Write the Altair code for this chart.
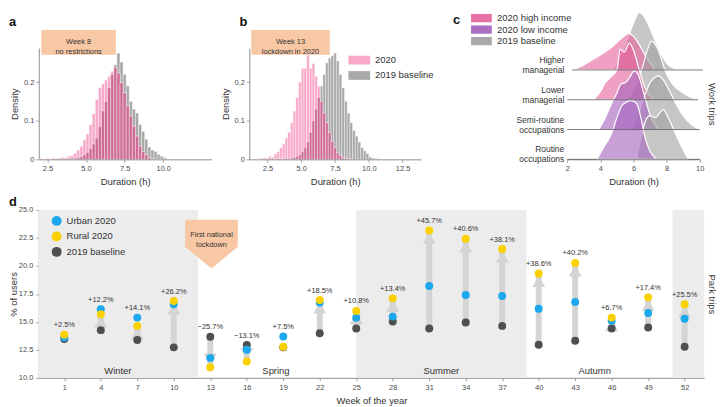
import altair as alt
import numpy as np
import pandas as pd

FONT = "Liberation Sans"
TXT = "#333333"
LAB = "#4a4a4a"
AXC = "#8f8f8f"
PEACH = "#f8c8a5"
PINK_BAR = "#f8a9c8"
GRAY_BAR = "#a9a9a9"
OVER_BAR = "#cd6b94"
SWATCH = "M-2.5,-1L2.5,-1L2.5,1L-2.5,1Z"
CALLOUT = "M-1,-0.925L1,-0.925L1,0.094L0,0.925L-1,0.094Z"

# ---------------- panels a and b: duration histograms ----------------
bin_start = [2.0, 2.2, 2.4, 2.6, 2.8, 3.0, 3.2, 3.4, 3.6, 3.8,
             4.0, 4.2, 4.4, 4.6, 4.8, 5.0, 5.2, 5.4, 5.6, 5.8,
             6.0, 6.2, 6.4, 6.6, 6.8, 7.0, 7.2, 7.4, 7.6, 7.8,
             8.0, 8.2, 8.4, 8.6, 8.8, 9.0, 9.2, 9.4, 9.6, 9.8,
             10.0, 10.2, 10.4, 10.6]
bin_width = 0.2
week8_2020 = [0.002, 0.001, 0.002, 0.001, 0.003, 0.002, 0.003, 0.005, 0.004, 0.008,
              0.010, 0.016, 0.024, 0.034, 0.050, 0.065, 0.090, 0.118, 0.155, 0.185,
              0.195, 0.205, 0.215, 0.228, 0.238, 0.223, 0.198, 0.172, 0.138, 0.112,
              0.086, 0.060, 0.034, 0.020, 0.012, 0.004, 0.002, 0, 0, 0,
              0, 0, 0, 0]
week8_2019 = [0, 0, 0.001, 0, 0.001, 0, 0.001, 0.001, 0.002, 0.002,
              0.003, 0.003, 0.005, 0.007, 0.012, 0.018, 0.028, 0.040, 0.055, 0.085,
              0.125, 0.150, 0.185, 0.220, 0.245, 0.275, 0.252, 0.220, 0.190, 0.150,
              0.130, 0.120, 0.090, 0.072, 0.052, 0.032, 0.024, 0.020, 0.013, 0.008,
              0.004, 0, 0, 0]
week13_2020 = [0.003, 0.004, 0.003, 0.008, 0.006, 0.014, 0.020, 0.030, 0.040, 0.055,
               0.070, 0.095, 0.125, 0.160, 0.200, 0.235, 0.236, 0.270, 0.236, 0.248,
               0.215, 0.189, 0.150, 0.120, 0.095, 0.069, 0.047, 0.030, 0.017, 0.010,
               0.004, 0.003, 0.002, 0.001, 0, 0, 0, 0, 0, 0,
               0, 0, 0, 0]
week13_2019 = [0, 0, 0, 0, 0.001, 0, 0.001, 0.001, 0.001, 0.002,
               0.002, 0.003, 0.005, 0.008, 0.012, 0.020, 0.030, 0.045, 0.070, 0.100,
               0.130, 0.160, 0.190, 0.220, 0.250, 0.262, 0.268, 0.275, 0.255, 0.220,
               0.185, 0.150, 0.120, 0.095, 0.075, 0.060, 0.045, 0.030, 0.022, 0.015,
               0.006, 0.003, 0.002, 0.001]

box_a_x = [2.11, 6.93]
box_b_x = [1.30, 7.11]
box_y = [0.2706, 0.335]
box_a_text = "Week 8\nno restrictions"
box_b_text = "Week 13\nlockdown in 2020"

# ---------------- panel c: work-trip duration ridgelines ----------------
c_rows = ["Higher\nmanagerial", "Lower\nmanagerial", "Semi-routine\noccupations", "Routine\noccupations"]
c_groups = ["2020 high income", "2020 high income", "2020 low income", "2020 low income"]
c2020_x = [[2.35, 3.0, 3.7, 4.2, 4.7, 5.3, 5.7, 6.0, 6.3, 6.6, 6.9, 7.3],
           [3.6, 4.0, 4.3, 4.7, 5.0, 5.2, 5.45, 5.75, 6.0, 6.35, 6.7, 7.2],
           [3.9, 4.3, 4.7, 5.0, 5.25, 5.5, 5.75, 6.05, 6.3, 6.6, 7.0, 7.5],
           [3.8, 4.2, 4.5, 4.75, 5.0, 5.3, 5.6, 5.9, 6.2, 6.45, 6.7, 7.0, 7.4]]
c2020_d = [[0, 0.17, 0.40, 0.57, 0.77, 1.07, 1.23, 1.13, 0.90, 0.60, 0.33, 0],
           [0, 0.27, 0.57, 0.80, 1.0, 1.70, 1.60, 1.90, 1.67, 1.0, 0.40, 0],
           [0, 0.40, 0.90, 1.23, 1.53, 1.57, 1.73, 1.97, 1.83, 1.27, 0.50, 0],
           [0, 0.40, 0.67, 0.97, 1.40, 1.80, 1.93, 1.97, 1.87, 1.40, 0.73, 0.27, 0]]
c2019_x = [[4.6, 5.0, 5.5, 6.0, 6.35, 6.6, 6.9, 7.3, 7.7, 8.1, 8.5, 9.0],
           [5.6, 6.0, 6.5, 6.8, 7.1, 7.3, 7.5, 7.9, 8.3, 8.9, 9.4, 9.9],
           [5.9, 6.3, 6.7, 7.0, 7.25, 7.5, 7.8, 8.2, 8.6, 9.0, 9.5, 10.0],
           [6.2, 6.5, 6.75, 7.0, 7.3, 7.55, 7.8, 8.1, 8.45, 8.85, 9.3]]
c2019_d = [[0, 0.20, 0.80, 1.57, 1.93, 1.83, 1.53, 1.0, 0.50, 0.17, 0.05, 0],
           [0, 0.33, 1.0, 1.60, 1.97, 1.87, 1.67, 1.0, 0.57, 0.27, 0.10, 0],
           [0, 0.50, 1.17, 1.57, 1.73, 1.80, 1.67, 1.27, 0.83, 0.47, 0.17, 0],
           [0, 0.83, 1.33, 1.47, 1.40, 1.53, 1.67, 1.40, 0.97, 0.50, 0]]
c_line_x0 = [2.3, 2.0, 2.0, 2.0]
c_line_x1 = [10.2, 9.9, 10.0, 10.0]
c_series = ["2020 high income", "2020 low income", "2019 baseline"]
c_colors = ["#e6619b", "#a361bc", "#a0a0a0"]

# ---------------- panel d: park trips ----------------
weeks = [1, 4, 7, 10, 13, 16, 19, 22, 25, 28, 31, 34, 37, 40, 43, 46, 49, 52]
urban = [13.60, 16.12, 15.38, 16.57, 11.78, 12.51, 13.70, 16.72, 15.36, 15.47,
         18.20, 17.40, 17.31, 16.18, 16.78, 15.09, 15.80, 15.27]
rural = [13.85, 15.68, 14.64, 16.86, 10.95, 11.45, 12.78, 16.95, 15.98, 17.10,
         23.17, 22.43, 21.51, 19.32, 20.27, 15.38, 17.19, 16.57]
base19 = [13.46, 14.26, 13.37, 12.72, 13.67, 12.93, 12.72, 13.99, 14.41, 15.03,
          14.41, 14.94, 14.64, 12.96, 13.31, 14.41, 14.50, 12.78]
change = ["+2.5%", "+12.2%", "+14.1%", "+26.2%", "\u221225.7%", "\u221213.1%", "+7.5%",
          "+18.5%", "+10.8%", "+13.4%", "+45.7%", "+40.6%", "+38.1%", "+38.6%",
          "+40.2%", "+6.7%", "+17.4%", "+25.5%"]
d_series = ["Urban 2020", "Rural 2020", "2019 baseline"]
d_colors = ["#1ba8ec", "#f9d000", "#4f4f4f"]
band_start = [-1.1, 25, 51]
band_end = [12, 39, 53.6]
season_names = ["Winter", "Spring", "Summer", "Autumn"]
season_week = [5.4, 18.4, 32.0, 44.6]
season_y = [10.6, 10.6, 10.6, 10.6]
callout_week = [13.1]
callout_y = [21.94]
callout_text = ["First national\nlockdown"]
d_xdom = [-1.1, 53.6]


def letter_title(t, dx, dy):
    return alt.TitleParams(t, anchor="start", frame="group", dx=dx, dy=dy, offset=0,
                           baseline="alphabetic", fontSize=13, fontWeight="bold",
                           color="#111111", font=FONT)


def hist_panel(v20, v19, xdom, xticks, box_x, box_text, letter, letter_dx, width, show_legend):
    n = len(bin_start)
    bars = pd.DataFrame({"start": bin_start + bin_start, "density": v19 + v20,
                         "series": ["2019 baseline"] * n + ["2020"] * n})
    bars["end"] = bars["start"] + bin_width
    bars = bars[bars["density"] > 0]
    over = pd.DataFrame({"start": bin_start, "density": np.minimum(v20, v19)})
    over["end"] = over["start"] + bin_width
    over = over[over["density"] > 0]
    box = pd.DataFrame({"x0": [box_x[0]], "x1": [box_x[1]], "y0": [box_y[0]], "y1": [box_y[1]],
                        "label": [box_text]})
    box["tx"] = (box["x0"] + box["x1"]) / 2
    box["ty"] = (box["y0"] + box["y1"]) / 2

    xs = alt.Scale(domain=xdom, nice=False, zero=False)
    ys = alt.Scale(domain=[0, 0.288], nice=False, zero=False)
    xax = alt.Axis(values=xticks, format=".1f", zindex=1, titlePadding=5, labelOverlap=False,
                   labelBound=False)
    yax = alt.Axis(values=[0, 0.1, 0.2], titlePadding=4, labelOverlap=False,
                   labelExpr="datum.value == 0 ? '0' : format(datum.value, '.1f')")
    if show_legend:
        legend = alt.Legend(orient="none", legendX=106, legendY=7.3, title=None,
                            symbolType=SWATCH, symbolSize=77, symbolStrokeWidth=0,
                            labelFont=FONT, labelFontSize=9.5, labelColor=TXT,
                            labelOffset=11, rowPadding=4.5, padding=0)
    else:
        legend = None
    X = "Duration (h)"
    Y = "Density"
    b1 = alt.Chart(bars).mark_rect(stroke="white", strokeWidth=0.4).encode(
        x=alt.X("start:Q", scale=xs, axis=xax, title=X),
        x2="end:Q",
        y=alt.Y("density:Q", scale=ys, axis=yax, title=Y),
        y2=alt.datum(0),
        color=alt.Color("series:N", legend=legend,
                        scale=alt.Scale(domain=["2020", "2019 baseline"], range=[PINK_BAR, GRAY_BAR])),
    )
    b2 = alt.Chart(over).mark_rect(color=OVER_BAR, stroke="white", strokeWidth=0.4).encode(
        x=alt.X("start:Q", scale=xs, axis=xax, title=X), x2="end:Q",
        y=alt.Y("density:Q", scale=ys, axis=yax, title=Y), y2=alt.datum(0))
    r = alt.Chart(box).mark_rect(color=PEACH).encode(
        x=alt.X("x0:Q", scale=xs, axis=xax, title=X), x2="x1:Q",
        y=alt.Y("y0:Q", scale=ys, axis=yax, title=Y), y2="y1:Q")
    t = alt.Chart(box).mark_text(font=FONT, fontSize=7.5, color=TXT, lineBreak="\n",
                                 lineHeight=10, baseline="middle").encode(
        x=alt.X("tx:Q", scale=xs, axis=xax, title=X), y=alt.Y("ty:Q", scale=ys, axis=yax, title=Y),
        text="label:N")
    return alt.layer(b1, b2, r, t).properties(width=width, height=112,
                                               title=letter_title(letter, letter_dx, 9.4))


panel_a = hist_panel(week8_2020, week8_2019, [1.94, 13.13], [2.5, 5, 7.5, 10],
                     box_a_x, box_a_text, "a", -30, 174, False)
panel_b = hist_panel(week13_2020, week13_2019, [1.155, 13.87], [2.5, 5, 7.5, 10, 12.5],
                     box_b_x, box_b_text, "b", -10, 173, True)

# ---- panel c
rows = []
for i in range(4):
    off = 3 - i
    for xs_, ds_, ser, kind in ((c2019_x[i], c2019_d[i], "2019 baseline", "b"),
                                (c2020_x[i], c2020_d[i], c_groups[i], "n")):
        for xv, dv in zip(xs_, ds_):
            rows.append({"curve": f"{i}{kind}", "series": ser, "x": xv,
                         "top": off + dv, "base": off})
cdf = pd.DataFrame(rows)
cxs = alt.Scale(domain=[1.99, 10.03], nice=False, zero=False)
cys = alt.Scale(domain=[0, 112 / 30], nice=False, zero=False)
cx_axis = alt.Axis(values=[2, 4, 6, 8, 10], format="d", titlePadding=5, labelOverlap=False,
                   labelBound=False, labelFlush=False)
c_legend = alt.Legend(orient="none", legendX=-91, legendY=-35, title=None,
                      symbolType=SWATCH, symbolSize=70, symbolStrokeWidth=0, symbolOpacity=0.9,
                      labelFont=FONT, labelFontSize=9.5, labelColor=TXT, labelOffset=11,
                      rowPadding=0.6, padding=0)
CX = "Duration (h)"
c_layers = []
for i in range(4):
    for kind in ("b", "n"):
        c_layers.append(
            alt.Chart(cdf).transform_filter(alt.datum.curve == f"{i}{kind}")
            .mark_area(interpolate="monotone", fillOpacity=0.6, stroke="white", strokeWidth=1.2)
            .encode(x=alt.X("x:Q", scale=cxs, axis=cx_axis, title=CX),
                    y=alt.Y("top:Q", scale=cys, axis=None),
                    y2="base:Q",
                    color=alt.Color("series:N", legend=c_legend,
                                    scale=alt.Scale(domain=c_series, range=c_colors))))
crow = pd.DataFrame({"label": c_rows, "base": [3, 2, 1, 0], "x0": c_line_x0, "x1": c_line_x1,
                     "xl": [2, 2, 2, 2]})
c_lines = alt.Chart(crow).mark_rule(color="#5a5a5a", strokeWidth=0.8).encode(
    x=alt.X("x0:Q", scale=cxs, axis=cx_axis, title=CX), x2="x1:Q",
    y=alt.Y("base:Q", scale=cys, axis=None))
c_labels = alt.Chart(crow).mark_text(font=FONT, fontSize=8.5, color=TXT, align="right",
                                     baseline="middle", lineBreak="\n", lineHeight=10,
                                     dx=-3, dy=-10).encode(
    x=alt.X("xl:Q", scale=cxs, axis=cx_axis, title=CX),
    y=alt.Y("base:Q", scale=cys, axis=None), text="label:N")
c_main = alt.layer(*c_layers, c_lines, c_labels)
c_side = alt.Chart(pd.DataFrame({"v": [0, 1]})).mark_point(opacity=0).encode(
    y=alt.Y("v:Q", scale=alt.Scale(domain=[0, 1]),
            axis=alt.Axis(orient="right", title="Work trips", labels=False, ticks=False,
                          domain=False, grid=False, titleAngle=90, titlePadding=6)))
panel_c = alt.layer(c_main, c_side).resolve_scale(y="independent").properties(
    width=134, height=112, title=letter_title("c", -115, 27))

spacer = alt.Chart(pd.DataFrame({"v": [0]})).mark_point(opacity=0).encode(
    x=alt.X("v:Q", axis=None), y=alt.Y("v:Q", axis=None)).properties(width=71, height=112)

# ---- panel d
dxs = alt.Scale(domain=d_xdom, nice=False, zero=False)
dys = alt.Scale(domain=[10, 25], nice=False, zero=False)
XT = "Week of the year"
YT = "% of users"
d_xaxis = alt.Axis(values=weeks, format="d", titlePadding=4, labelPadding=3, labelOverlap=False,
                   labelBound=False)
d_yaxis = alt.Axis(values=[10, 12.5, 15, 17.5, 20, 22.5, 25], format=".1f",
                   titlePadding=0, labelPadding=3, labelOverlap=False)


def dx_(field):
    return alt.X(field, scale=dxs, axis=d_xaxis, title=XT)


def dy_(field):
    return alt.Y(field, scale=dys, axis=d_yaxis, title=YT)


wk = pd.DataFrame({"week": weeks, "urban": urban, "rural": rural, "base19": base19,
                   "change": change})
wk["top"] = np.maximum.reduce([wk["urban"], wk["rural"], wk["base19"]])
wk["up"] = wk["change"].str.startswith("+")
wk["gap"] = (wk["rural"] - wk["base19"]).abs()
pts = pd.concat([
    pd.DataFrame({"week": weeks, "value": base19, "series": "2019 baseline"}),
    pd.DataFrame({"week": weeks, "value": urban, "series": "Urban 2020"}),
    pd.DataFrame({"week": weeks, "value": rural, "series": "Rural 2020"}),
], ignore_index=True)
bands = pd.DataFrame({"start": band_start, "end": band_end, "lo": [10, 10, 10], "hi": [25, 25, 25]})
seasons = pd.DataFrame({"name": season_names, "week": season_week, "y": season_y})
callout = pd.DataFrame({"week": callout_week, "y": callout_y, "label": callout_text})
ARROW = "#d4d4d4"

d_bands = alt.Chart(bands).mark_rect(color="#ececec").encode(
    x=dx_("start:Q"), x2="end:Q", y=dy_("lo:Q"), y2="hi:Q")
d_seasons = alt.Chart(seasons).mark_text(font=FONT, fontSize=9.5, color=TXT, baseline="middle").encode(
    x=dx_("week:Q"), y=dy_("y:Q"), text="name:N")
d_shaft = alt.Chart(wk).transform_filter("datum.gap > 0.6").mark_rule(
    color=ARROW, strokeWidth=6).encode(x=dx_("week:Q"), y=dy_("base19:Q"), y2="rural:Q")
d_head_up = alt.Chart(wk).transform_filter("datum.gap > 0.6 && datum.up").mark_point(
    shape="triangle-up", size=170, filled=True, color=ARROW, opacity=1, yOffset=8).encode(
    x=dx_("week:Q"), y=dy_("rural:Q"))
d_head_dn = alt.Chart(wk).transform_filter("datum.gap > 0.6 && !datum.up").mark_point(
    shape="triangle-down", size=170, filled=True, color=ARROW, opacity=1, yOffset=-8).encode(
    x=dx_("week:Q"), y=dy_("rural:Q"))
d_legend = alt.Legend(orient="none", legendX=13, legendY=6, title=None, symbolType="circle",
                      symbolSize=100, symbolStrokeWidth=0, labelFont=FONT, labelFontSize=9.5,
                      labelColor=TXT, labelOffset=5, rowPadding=5.6, padding=0)
d_points = alt.Chart(pts).mark_circle(size=64, opacity=1).encode(
    x=dx_("week:Q"), y=dy_("value:Q"),
    color=alt.Color("series:N", legend=d_legend,
                    scale=alt.Scale(domain=d_series, range=d_colors)))
d_pct = alt.Chart(wk).mark_text(font=FONT, fontSize=7.5, color=TXT, baseline="middle", dy=-9.5).encode(
    x=dx_("week:Q"), y=dy_("top:Q"), text="change:N")
d_call = alt.Chart(callout).mark_point(shape=CALLOUT, size=2809, filled=True, color=PEACH,
                                       opacity=1).encode(x=dx_("week:Q"), y=dy_("y:Q"))
d_call_t = alt.Chart(callout).mark_text(font=FONT, fontSize=7.5, color=TXT, lineBreak="\n",
                                        lineHeight=10, baseline="middle", dy=-9).encode(
    x=dx_("week:Q"), y=dy_("y:Q"), text="label:N")
d_main = alt.layer(d_bands, d_seasons, d_shaft, d_head_up, d_head_dn, d_points, d_pct,
                   d_call, d_call_t)
d_side = alt.Chart(pd.DataFrame({"v": [0, 1]})).mark_point(opacity=0).encode(
    y=alt.Y("v:Q", scale=alt.Scale(domain=[0, 1]),
            axis=alt.Axis(orient="right", title="Park trips", labels=False, ticks=False,
                          domain=False, grid=False, titleAngle=90, titlePadding=2)))
panel_d = alt.layer(d_main, d_side).resolve_scale(y="independent").properties(
    width=670, height=169, title=letter_title("d", -30, 13.3))

top = alt.hconcat(panel_a, panel_b, spacer, panel_c, spacing=38, bounds="flush").resolve_scale(
    x="independent", y="independent", color="independent")
chart = alt.vconcat(top, panel_d, spacing=10,
                    padding={"left": 0, "top": 0, "right": 4, "bottom": 0}).resolve_scale(
    x="independent", y="independent", color="independent").configure_view(
    stroke=None).configure_axis(
    labelFont=FONT, titleFont=FONT, labelFontSize=7.5, titleFontSize=9.5,
    labelColor=LAB, titleColor=TXT, titleFontWeight="normal", domainColor=AXC,
    tickColor=AXC, tickSize=3, labelPadding=2, grid=False, labelFlush=False,
    labelOverlap=False, domainWidth=1, tickWidth=0.8).configure_text(font=FONT)

chart.save("out.html", embed_options={"renderer": "svg", "actions": False})
